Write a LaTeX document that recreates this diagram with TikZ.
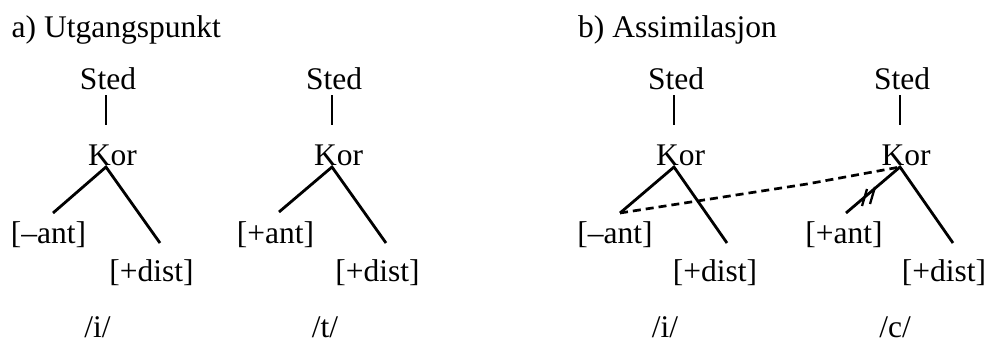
\documentclass[tikz,border=0pt]{standalone}
\usepackage{fontspec}
\setmainfont{Liberation Serif}
\begin{document}
\begin{tikzpicture}[x=1pt,y=-1pt,
  lbl/.style={anchor=base,inner sep=0pt,font=\fontsize{31.5}{36}\selectfont},
  ttl/.style={anchor=base west,inner sep=0pt,font=\fontsize{31.5}{36}\selectfont},
  branch/.style={line width=2.8pt},
  assoc/.style={line width=2.7pt,dash pattern=on 8pt off 5pt},
  cut/.style={line width=2.3pt}]
\useasboundingbox (0,0) rectangle (989,343);
% titles
\node[ttl] (ta) at (11.5,37) {a) Utgangspunkt};
\node[ttl] (tb) at (578,37) {b) Assimilasjon};
% ---- tree 1
\node[lbl] (s1) at (108,89) {Sted};
\node[lbl] (k1) at (112.5,165) {Kor};
\node[lbl] (a1) at (48.5,243) {[–ant]};
\node[lbl] (d1) at (151.5,281) {[+dist]};
\node[lbl] (p1) at (97.5,337) {/i/};
\coordinate (v1t) at (106,95); \coordinate (v1b) at (106,125);
\coordinate (x1) at (106,167);
\coordinate (l1) at (53,213); \coordinate (r1) at (160,243);
\draw[branch] (v1t) -- (v1b);
\draw[branch] (l1) -- (x1) -- (r1);
% ---- tree 2
\node[lbl] (s2) at (334,89) {Sted};
\node[lbl] (k2) at (338.5,165) {Kor};
\node[lbl] (a2) at (275.5,243) {[+ant]};
\node[lbl] (d2) at (377.5,281) {[+dist]};
\node[lbl] (p2) at (325,337) {/t/};
\coordinate (v2t) at (332,95); \coordinate (v2b) at (332,125);
\coordinate (x2) at (332,167);
\coordinate (l2) at (279,212); \coordinate (r2) at (386,243);
\draw[branch] (v2t) -- (v2b);
\draw[branch] (l2) -- (x2) -- (r2);
% ---- tree 3
\node[lbl] (s3) at (676,89) {Sted};
\node[lbl] (k3) at (680.5,165) {Kor};
\node[lbl] (a3) at (615,243) {[–ant]};
\node[lbl] (d3) at (715,281) {[+dist]};
\node[lbl] (p3) at (665,337) {/i/};
\coordinate (v3t) at (674,95); \coordinate (v3b) at (674,125);
\coordinate (x3) at (674,167);
\coordinate (l3) at (620,213); \coordinate (r3) at (727,243);
\draw[branch] (v3t) -- (v3b);
\draw[branch] (l3) -- (x3) -- (r3);
% ---- tree 4
\node[lbl] (s4) at (902,89) {Sted};
\node[lbl] (k4) at (906,165) {Kor};
\node[lbl] (a4) at (844,243) {[+ant]};
\node[lbl] (d4) at (944,281) {[+dist]};
\node[lbl] (p4) at (895,337) {/c/};
\coordinate (v4t) at (900,95); \coordinate (v4b) at (900,125);
\coordinate (x4) at (900,167);
\coordinate (l4) at (846,213); \coordinate (r4) at (953,243);
\draw[branch] (v4t) -- (v4b);
\draw[branch] (l4) -- (x4) -- (r4);
% delinking marks
\coordinate (c1a) at (862,206); \coordinate (c1b) at (867,189);
\coordinate (c2a) at (870,204); \coordinate (c2b) at (875,187);
\draw[cut] (c1a) -- (c1b);
\draw[cut] (c2a) -- (c2b);
% spreading (dashed association line)
\coordinate (m) at (807,184);
\draw[assoc] (l3) -- (m) -- (x4);
\end{tikzpicture}
\end{document}
